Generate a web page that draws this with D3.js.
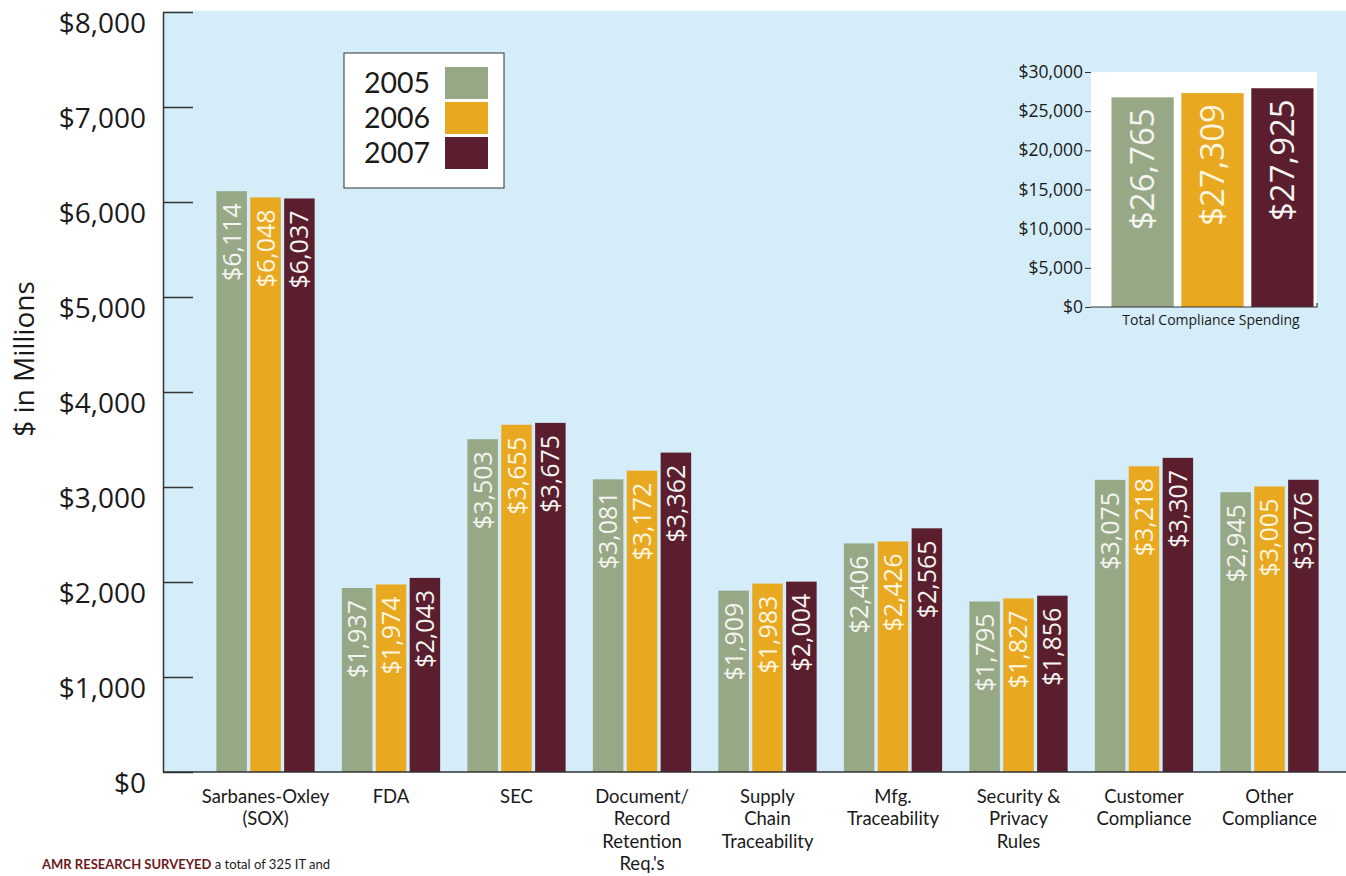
<!DOCTYPE html>
<html>
<head>
<meta charset="utf-8">
<script src="https://cdn.jsdelivr.net/npm/d3@7"></script>
<style>
  body { margin: 0; background: #fff; }
  svg { display: block; font-family: "Open Sans", sans-serif; }
</style>
</head>
<body>
<svg width="1346" height="876"></svg>
<script>
const categories = [
  ["Sarbanes-Oxley", "(SOX)"],
  ["FDA"],
  ["SEC"],
  ["Document/", "Record", "Retention", "Req.'s"],
  ["Supply", "Chain", "Traceability"],
  ["Mfg.", "Traceability"],
  ["Security &", "Privacy", "Rules"],
  ["Customer", "Compliance"],
  ["Other", "Compliance"]
]
const years = ["2005", "2006", "2007"]
const v2005 = [6114, 1937, 3503, 3081, 1909, 2406, 1795, 3075, 2945]
const v2006 = [6048, 1974, 3655, 3172, 1983, 2426, 1827, 3218, 3005]
const v2007 = [6037, 2043, 3675, 3362, 2004, 2565, 1856, 3307, 3076]
const yTicks = [0, 1000, 2000, 3000, 4000, 5000, 6000, 7000, 8000]

const totals = [26765, 27309, 27925]
const totalTicks = [0, 5000, 10000, 15000, 20000, 25000, 30000]
const totalLabel = "Total Compliance Spending"

const colors = ["#97a887", "#e8a81f", "#5a1e2e"]
const blue = "#d4edf8"

const svg = d3.select("svg")
const money = d3.format("$,")

// light blue plot backdrop
svg.append("rect").attr("x", 163).attr("y", 11).attr("width", 1346 - 163).attr("height", 772 - 11).attr("fill", blue)

const y = d3.scaleLinear().domain([0, 8000]).range([772, 12])
const keys = categories.map(c => c.join(" "))
const x0 = d3.scaleBand().domain(keys).range([213, 1322]).paddingInner(0.163)
const x1 = d3.scaleBand().domain(years).range([0, x0.bandwidth()]).padding(0.1)

const series = [v2005, v2006, v2007]
const rows = keys.map((k, i) => ({ key: k, lines: categories[i], vals: series.map(s => s[i]) }))

// main y axis, ticks point into the plot
const yAxis = d3.axisLeft(y).tickValues(yTicks).tickFormat(money)
  .tickSizeInner(-30).tickSizeOuter(0).tickPadding(17)
const ag = svg.append("g").attr("transform", "translate(163,0)").call(yAxis)
ag.selectAll("text").attr("font-size", 28).attr("fill", "#1a1a1a").attr("dy", "0.72em")
  .attr("font-family", "Open Sans")
ag.selectAll("line").attr("stroke", "#333").attr("stroke-width", 1.5)
ag.select(".domain").attr("stroke", "#333").attr("stroke-width", 1.5)

svg.append("text").attr("transform", "translate(34,359) rotate(-90)")
  .attr("text-anchor", "middle").attr("font-size", 28).attr("fill", "#1a1a1a")
  .text("$ in Millions")

// bars
const grp = svg.selectAll("g.cat").data(rows).enter().append("g")
  .attr("class", "cat").attr("transform", d => `translate(${x0(d.key)},0)`)

const bar = grp.selectAll("g.bar").data(d => d.vals.map((v, j) => ({ v, yr: years[j], j })))
  .enter().append("g").attr("class", "bar")

bar.append("rect")
  .attr("x", d => x1(d.yr)).attr("y", d => y(d.v))
  .attr("width", x1.bandwidth()).attr("height", d => y(0) - y(d.v))
  .attr("fill", d => colors[d.j])

bar.append("text")
  .attr("transform", d => `translate(${x1(d.yr) + x1.bandwidth() / 2},${y(d.v) + 12}) rotate(-90)`)
  .attr("text-anchor", "end").attr("dy", "0.36em")
  .attr("font-size", 25).attr("fill", d => d.j == 1 ? "#fdf6e0" : "#f4f4f0")
  .text(d => money(d.v))

// baseline
svg.append("line").attr("x1", 163).attr("x2", 1346).attr("y1", y(0)).attr("y2", y(0))
  .attr("stroke", "#333").attr("stroke-width", 1.5)

// category labels (Lato keeps the line boxes from colliding)
grp.append("text").attr("text-anchor", "middle").attr("font-size", 18.5).attr("fill", "#1a1a1a")
  .attr("font-family", "Lato").attr("x", x0.bandwidth() / 2)
  .selectAll("tspan").data(d => d.lines).enter().append("tspan")
  .attr("x", x0.bandwidth() / 2).attr("y", (d, i) => 803 + i * 22.4).text(d => d)

// legend
const lg = svg.append("g").attr("transform", "translate(344,53)")
lg.append("rect").attr("width", 160).attr("height", 135).attr("fill", "#fff")
  .attr("stroke", "#333").attr("stroke-width", 1)
years.forEach((yr, i) => {
  lg.append("rect").attr("x", 101).attr("y", 14 + i * 35).attr("width", 43).attr("height", 32).attr("fill", colors[i])
  lg.append("text").attr("x", 20).attr("y", 30 + i * 35).attr("dy", "0.36em")
    .attr("font-family", "Lato").attr("font-size", 28.5).attr("fill", "#1a1a1a").text(yr)
})

// inset: total spending
const iy = d3.scaleLinear().domain([0, 30000]).range([307, 72])
const ix = d3.scaleBand().domain(years).range([1108, 1317]).paddingInner(0.11).paddingOuter(0.05)
svg.append("rect").attr("x", 1091).attr("y", 72).attr("width", 1317 - 1091).attr("height", 307 - 72).attr("fill", "#fff")

const iAxis = d3.axisLeft(iy).tickValues(totalTicks).tickFormat(money).tickSize(6).tickPadding(2)
const ig = svg.append("g").attr("transform", "translate(1091,0)").call(iAxis)
ig.select(".domain").remove()
ig.selectAll("text").attr("font-size", 17.5).attr("fill", "#1a1a1a").attr("font-family", "Open Sans")
ig.selectAll("line").attr("stroke", "#333")

svg.selectAll("rect.tot").data(totals).enter().append("rect").attr("class", "tot")
  .attr("x", (d, i) => ix(years[i])).attr("y", d => iy(d))
  .attr("width", ix.bandwidth()).attr("height", d => iy(0) - iy(d))
  .attr("fill", (d, i) => colors[i])

svg.selectAll("text.tot").data(totals).enter().append("text").attr("class", "tot")
  .attr("transform", (d, i) => `translate(${ix(years[i]) + ix.bandwidth() / 2},${iy(d) + 11}) rotate(-90)`)
  .attr("text-anchor", "end").attr("dy", "0.36em").attr("font-size", 33)
  .attr("fill", (d, i) => i == 1 ? "#fdf6e0" : "#f4f4f0")
  .text(d => money(d))

svg.append("path").attr("d", `M1091,${iy(0)}H1317V${iy(0) - 4}`)
  .attr("fill", "none").attr("stroke", "#333").attr("stroke-width", 1.2)
svg.append("text").attr("x", 1211).attr("y", 325).attr("text-anchor", "middle")
  .attr("font-size", 14).attr("fill", "#1a1a1a").text(totalLabel)

// start of the article text under the chart
const cap = svg.append("text").attr("x", 42).attr("y", 869).attr("font-family", "Lato")
  .attr("font-size", 13).attr("fill", "#1a1a1a")
cap.append("tspan").attr("font-weight", "bold").attr("fill", "#6b1a22").text("AMR RESEARCH SURVEYED")
cap.append("tspan").text(" a total of 325 IT and")
</script>
</body>
</html>
